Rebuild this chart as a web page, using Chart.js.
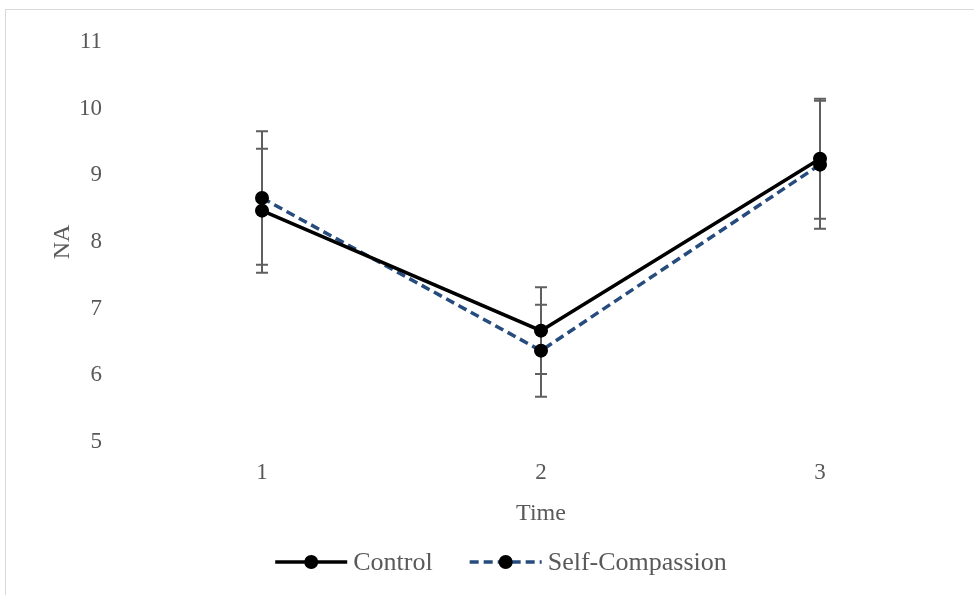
<!DOCTYPE html>
<html>
<head>
<meta charset="utf-8">
<script src="https://cdn.jsdelivr.net/npm/chart.js@4/dist/chart.umd.min.js"></script>
<style>
  html, body { margin: 0; padding: 0; background: #fff; overflow: hidden; }
  #frame {
    position: absolute; left: 5px; top: 9px;
    width: 968px; height: 585px;
    border-left: 1px solid #d9d9d9; border-top: 1px solid #d9d9d9;
  }
</style>
</head>
<body>
<div id="frame"><canvas id="naChart" width="968" height="585"></canvas></div>
<script>
// Data
const timePoints = ['1', '2', '3'];
const seriesNames = ['Control', 'Self-Compassion'];
const controlMeans = [8.47, 6.67, 9.25];
const controlErrors = [0.93, 0.65, 0.90];
const compassionMeans = [8.66, 6.37, 9.16];
const compassionErrors = [1.00, 0.69, 0.96];

const FONT = '"Liberation Serif", "Times New Roman", serif';
const TEXT = '#595959';
const BLUE = '#264b7d';

// Error bars under the lines, read through the y scale
const errorBars = {
    id: 'errorBars',
    beforeDatasetsDraw(chart) {
        const { ctx, scales: { y } } = chart;
        ctx.save();
        ctx.strokeStyle = '#5f5f5f';
        ctx.lineWidth = 2;
        chart.data.datasets.forEach((ds, i) => {
            const meta = chart.getDatasetMeta(i);
            meta.data.forEach((pt, j) => {
                const top = y.getPixelForValue(ds.data[j] + ds.errors[j]);
                const bot = y.getPixelForValue(ds.data[j] - ds.errors[j]);
                ctx.beginPath();
                ctx.moveTo(pt.x, top); ctx.lineTo(pt.x, bot);
                ctx.moveTo(pt.x - 6, top); ctx.lineTo(pt.x + 6, top);
                ctx.moveTo(pt.x - 6, bot); ctx.lineTo(pt.x + 6, bot);
                ctx.stroke();
            });
        });
        ctx.restore();
    }
};

// Legend drawn as line + marker + label, centred under the chart
const lineLegend = {
    id: 'lineLegend',
    afterDraw(chart) {
        const { ctx } = chart;
        const cy = 552, symW = 72, gap = 6, itemGap = 37, centerX = 495;
        ctx.save();
        ctx.font = '26px ' + FONT;
        ctx.textBaseline = 'middle';
        const items = chart.data.datasets.map(ds => ({ ds, w: ctx.measureText(ds.label).width }));
        const total = items.reduce((s, it) => s + symW + gap + it.w, 0) + itemGap * (items.length - 1);
        let x = centerX - total / 2;
        items.forEach(({ ds, w }) => {
            ctx.strokeStyle = ds.borderColor;
            ctx.lineWidth = ds.borderWidth;
            ctx.setLineDash(ds.borderDash || []);
            ctx.beginPath();
            ctx.moveTo(x, cy); ctx.lineTo(x + symW, cy);
            ctx.stroke();
            ctx.setLineDash([]);
            ctx.fillStyle = ds.pointBackgroundColor;
            ctx.beginPath();
            ctx.arc(x + symW / 2, cy, ds.pointRadius, 0, Math.PI * 2);
            ctx.fill();
            ctx.fillStyle = TEXT;
            ctx.fillText(ds.label, x + symW + gap, cy + 1);
            x += symW + gap + w + itemGap;
        });
        ctx.restore();
    }
};

new Chart(document.getElementById('naChart'), {
    type: 'line',
    data: {
        labels: timePoints,
        datasets: [
            {
                label: seriesNames[0],
                data: controlMeans,
                errors: controlErrors,
                borderColor: '#000000',
                borderWidth: 3.5,
                pointRadius: 7,
                pointBackgroundColor: '#000000',
                pointBorderWidth: 0,
                tension: 0
            },
            {
                label: seriesNames[1],
                data: compassionMeans,
                errors: compassionErrors,
                borderColor: BLUE,
                borderWidth: 3.5,
                borderDash: [9, 5],
                pointRadius: 7,
                pointBackgroundColor: '#000000',
                pointBorderWidth: 0,
                tension: 0
            }
        ]
    },
    options: {
        responsive: false,
        devicePixelRatio: 1,
        animation: false,
        layout: { padding: { left: 0, right: 14.5, top: 30, bottom: 66.6 } },
        plugins: {
            legend: { display: false },
            tooltip: { enabled: false }
        },
        scales: {
            x: {
                type: 'category',
                offset: true,
                grid: { display: false, drawTicks: false },
                border: { display: false },
                ticks: { padding: 17, color: TEXT, font: { family: FONT, size: 23 } },
                title: {
                    display: true, text: 'Time', color: TEXT,
                    font: { family: FONT, size: 24 }, padding: { top: 0, bottom: 0 }
                },
                afterFit(scale) { scale.height = 86.4; }
            },
            y: {
                min: 5,
                max: 11,
                grid: { display: false, drawTicks: false },
                border: { display: false },
                ticks: { stepSize: 1, padding: 20.5, color: TEXT, font: { family: FONT, size: 23, lineHeight: 1 } },
                title: {
                    display: true, text: 'NA', color: TEXT,
                    font: { family: FONT, size: 24 }, padding: { top: 42.6, bottom: 0 }
                },
                afterFit(scale) { scale.width = 116.5; }
            }
        }
    },
    plugins: [errorBars, lineLegend]
});
</script>
</body>
</html>
